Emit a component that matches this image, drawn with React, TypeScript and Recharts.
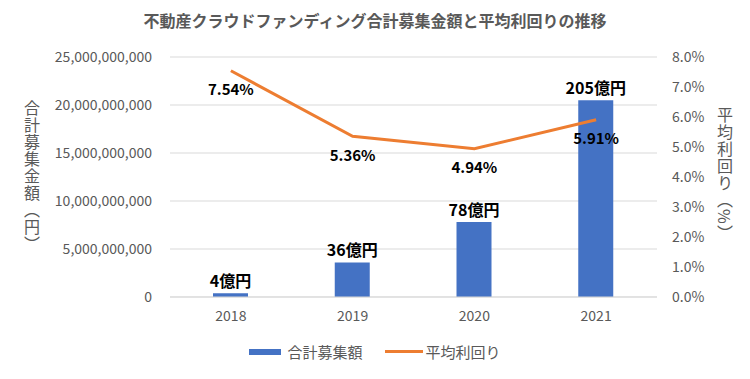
import {
  ComposedChart,
  Bar,
  Line,
  XAxis,
  YAxis,
  CartesianGrid,
  LabelList,
} from "recharts";

const TITLE = "不動産クラウドファンディング合計募集金額と平均利回りの推移";
const LEFT_TITLE = "合計募集金額（円）";
const RIGHT_TITLE = "平均利回り（%）";
const YEARS = ["2018", "2019", "2020", "2021"];
const AMOUNTS = [400000000, 3600000000, 7800000000, 20500000000];
const YIELDS = [7.54, 5.36, 4.94, 5.91];
const AMOUNT_TICKS = [0, 5000000000, 10000000000, 15000000000, 20000000000, 25000000000];
const YIELD_TICKS = [0, 1, 2, 3, 4, 5, 6, 7, 8];
const SERIES = [
  { name: "合計募集額", kind: "bar" },
  { name: "平均利回り", kind: "line" },
];

const FONT = '"Noto Sans CJK JP", "Noto Sans", sans-serif';
const GREY = "#595959";
const BLUE = "#4472C4";
const ORANGE = "#ED7D31";

const tickStyle = { fill: GREY, fontSize: 14 };

function VerticalTitle({ text, left, top }: { text: string; left: number; top: number }) {
  return (
    <div
      style={{
        position: "absolute",
        left,
        top,
        writingMode: "vertical-rl",
        fontSize: 16,
        lineHeight: "16px",
        letterSpacing: 1,
        color: GREY,
      }}
    >
      {text}
    </div>
  );
}

function LegendRow() {
  return (
    <div
      style={{
        position: "absolute",
        top: 341,
        left: 0,
        width: 750,
        display: "flex",
        justifyContent: "center",
        alignItems: "center",
        gap: 22,
        color: GREY,
        fontSize: 15,
      }}
    >
      {SERIES.map((s) => (
        <div key={s.name} style={{ display: "flex", alignItems: "center" }}>
          {s.kind === "bar" ? (
            <span style={{ display: "inline-block", width: 32, height: 6, background: BLUE, marginRight: 6 }} />
          ) : (
            <span style={{ display: "inline-block", width: 38, height: 3, background: ORANGE, marginRight: 3 }} />
          )}
          {s.name}
        </div>
      ))}
    </div>
  );
}

export default function App() {
  const data = YEARS.map((year, i) => ({ year, amount: AMOUNTS[i], yield: YIELDS[i] }));

  return (
    <div style={{ position: "absolute", left: 0, top: 0, width: 750, height: 379, background: "#fff", fontFamily: FONT }}>
      <ComposedChart width={750} height={379} data={data} margin={{ top: 57, right: 13, bottom: 52, left: 20 }}>
        <CartesianGrid yAxisId="left" vertical={false} stroke="#d9d9d9" />
        <XAxis dataKey="year" height={30} axisLine={{ stroke: "#d9d9d9" }} tickLine={false} tickMargin={8} tick={tickStyle} />
        <YAxis
          yAxisId="left"
          width={150}
          domain={[0, 25000000000]}
          ticks={AMOUNT_TICKS}
          axisLine={false}
          tickLine={false}
          tickMargin={12}
          tick={tickStyle}
          tickFormatter={(v) => Number(v).toLocaleString("en-US")}
        />
        <YAxis
          yAxisId="right"
          orientation="right"
          width={80}
          domain={[0, 8]}
          ticks={YIELD_TICKS}
          axisLine={false}
          tickLine={false}
          tickMargin={9}
          tick={tickStyle}
          tickFormatter={(v) => `${Number(v).toFixed(1)}%`}
        />
        <Bar yAxisId="left" dataKey="amount" name={SERIES[0].name} fill={BLUE} barSize={35} isAnimationActive={false}>
          <LabelList
            dataKey="amount"
            position="top"
            offset={6}
            fill="#000"
            fontSize={16}
            fontWeight={700}
            formatter={(v: any) => `${Math.round(Number(v) / 100000000)}億円`}
          />
        </Bar>
        <Line
          yAxisId="right"
          dataKey="yield"
          name={SERIES[1].name}
          stroke={ORANGE}
          strokeWidth={3}
          dot={false}
          isAnimationActive={false}
        >
          <LabelList
            dataKey="yield"
            position="bottom"
            offset={14}
            fill="#000"
            fontSize={15}
            fontWeight={700}
            formatter={(v: any) => `${Number(v).toFixed(2)}%`}
          />
        </Line>
      </ComposedChart>
      <div
        style={{
          position: "absolute",
          top: 8,
          left: 0,
          width: 750,
          textAlign: "center",
          fontSize: 16,
          fontWeight: 700,
          color: GREY,
        }}
      >
        {TITLE}
      </div>
      <VerticalTitle text={LEFT_TITLE} left={24} top={100} />
      <VerticalTitle text={RIGHT_TITLE} left={717} top={107} />
      <LegendRow />
    </div>
  );
}
